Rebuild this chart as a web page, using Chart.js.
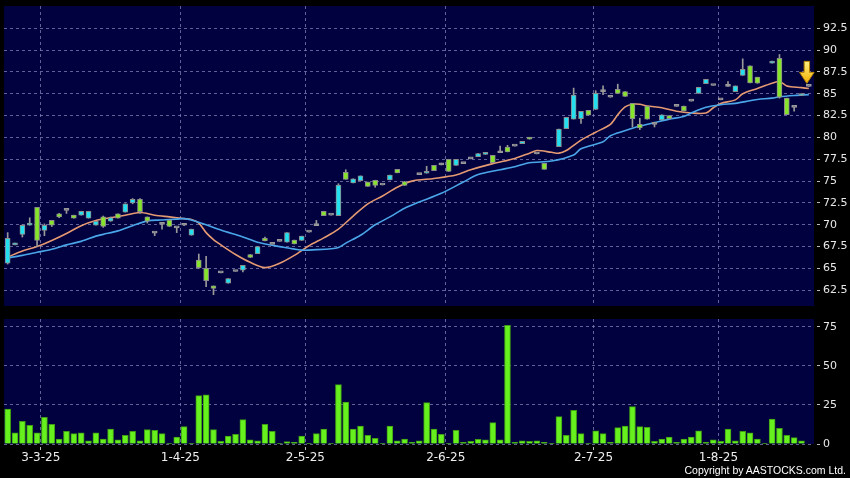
<!DOCTYPE html>
<html>
<head>
<meta charset="utf-8">
<script src="https://cdn.jsdelivr.net/npm/chart.js@4/dist/chart.umd.min.js"></script>
<style>
  html, body { margin: 0; padding: 0; background: #000; }
  #wrap { position: relative; width: 850px; height: 478px; background: #000; overflow: hidden; }
  #price { position: absolute; left: 0; top: 0; }
  #volume { position: absolute; left: 0; top: 310px; }
  #copy { position: absolute; right: 4px; top: 464px; color: #fff; font: 10.5px "Liberation Sans", sans-serif; line-height: 13px; white-space: nowrap; }
</style>
</head>
<body>
<div id="wrap">
  <canvas id="price" width="850" height="310"></canvas>
  <canvas id="volume" width="850" height="168"></canvas>
  <div id="copy">Copyright by AASTOCKS.com Ltd.</div>
</div>
<script>
// daily candles, one slot per trading day (null = no candle)
const opens = [
  65.6, 67.7, 68.9, 69.95, 72.0, 69.35, 70.5, 71.25, 71.65, 71.1,
  71.1, 70.75, 69.95, 70.9, 70.4, 71.25, 71.45, 72.5, 72.9, 70.9,
  69.05, 70.05, 70.55, 69.65, 69.95, 68.8, 65.95, 65.0, 63.0, 64.5,
  63.3, 64.65, 64.8, 66.6, 66.7, 68.45, 67.75, 68.1, 68.0, 68.25,
  68.2, 69.15, 69.9, 71.55, 71.1, 71.05, 76.0, 74.8, 75.05, 74.9,
  75.1, 74.55, 75.15, 76.35, 74.95, null, 75.75, 75.9, 76.8, 76.85,
  77.5, 76.8, 77.0, 77.55, 77.8, 78.05, 77.95, 78.25, 78.9, 79.0,
  79.3, 80.0, 78.1, 77.05, null, 78.95, 81.0, 82.1, 82.15, 83.1,
  83.2, 85.25, 84.6, 85.5, 85.25, 83.9, 81.5, 83.6, 81.5, 82.0,
  82.5, 83.55, 83.6, 84.15, 85.05, 86.15, 85.95, 84.3, 85.85, 85.25,
  87.1, 88.2, 86.9, null, 88.5, 89.05, 84.5, 83.45, 84.8, 85.85
];
const highs = [
  69.1, 67.9, 70.0, 70.8, 72.0, 70.1, 70.5, 71.3, 71.65, 71.1,
  71.55, 71.55, 70.4, 71.0, 70.9, 71.25, 72.4, 73.0, 73.0, 70.9,
  69.1, 70.1, 70.55, 69.7, 70.0, 69.5, 66.65, 66.4, 63.0, 64.5,
  63.85, 64.65, 65.35, 66.6, 67.5, 68.6, 67.75, 68.1, 69.1, 68.25,
  68.7, 69.15, 70.5, 71.55, 71.1, 74.7, 76.3, 75.25, 75.6, 74.9,
  75.1, 74.55, 75.7, 76.35, 74.95, null, 75.75, 76.7, 76.8, 77.05,
  77.5, 77.5, 77.0, 77.55, 78.15, 78.3, 77.95, 79.0, 79.1, 79.0,
  79.55, 80.0, 78.1, 77.05, null, 80.95, 82.3, 85.65, 83.0, 83.1,
  85.35, 85.9, 84.6, 86.1, 85.25, 83.9, 82.2, 83.6, 81.5, 82.6,
  82.5, 83.55, 83.6, 84.15, 85.75, 86.65, 85.95, 84.3, 86.4, 85.9,
  89.0, 88.2, 86.9, null, 88.75, 89.5, 84.5, 83.45, 85.0, 85.85
];
const lows = [
  65.5, 67.7, 68.6, 69.95, 67.5, 68.75, 69.8, 70.8, 71.3, 70.75,
  71.1, 70.75, 69.95, 69.7, 70.4, 70.75, 71.45, 72.4, 71.3, 70.2,
  68.75, 69.5, 69.8, 69.1, 69.9, 68.8, 65.0, 62.9, 62.0, 64.5,
  63.3, 64.65, 64.6, 66.25, 66.7, 68.15, 67.75, 68.1, 68.0, 67.8,
  68.2, 69.15, 69.9, 71.05, 71.1, 71.05, 75.2, 74.8, 75.05, 74.4,
  74.3, 74.55, 75.15, 75.95, 74.5, null, 75.75, 75.9, 76.2, 76.85,
  76.1, 76.8, 77.0, 77.55, 77.8, 78.05, 77.1, 78.25, 78.35, 79.0,
  79.3, 79.8, 78.1, 76.35, null, 78.95, 81.0, 82.1, 81.6, 82.55,
  83.2, 84.9, 84.6, 85.05, 84.7, 81.2, 80.9, 82.1, 81.2, 82.0,
  82.15, 83.55, 83.05, 84.15, 85.05, 86.15, 85.95, 84.3, 85.85, 85.25,
  87.1, 86.25, 86.2, null, 88.5, 84.5, 82.6, 83.0, 84.8, 85.85
];
const closes = [
  68.45, 67.9, 69.95, 70.2, 68.2, 69.95, 69.95, 70.9, 71.65, 70.75,
  71.55, 71.55, 70.4, 69.8, 70.8, 70.75, 72.4, 72.9, 71.5, 70.4,
  69.05, 70.05, 69.8, 69.65, 69.95, 69.5, 65.1, 63.6, 62.7, 64.5,
  63.85, 64.65, 65.35, 66.25, 67.5, 68.15, 67.75, 68.1, 69.1, 67.8,
  68.7, 69.15, 69.9, 71.05, 71.1, 74.55, 75.2, 75.25, 75.6, 74.4,
  74.5, 74.55, 75.7, 75.95, 74.5, null, 75.75, 76.05, 76.2, 76.85,
  76.1, 77.5, 77.0, 77.55, 78.15, 78.3, 77.1, 78.25, 78.35, 79.0,
  79.55, 79.8, 78.1, 76.35, null, 80.95, 82.3, 84.85, 83.0, 82.55,
  85.05, 85.25, 84.6, 85.05, 84.7, 82.15, 81.1, 82.1, 81.5, 82.6,
  82.15, 83.55, 83.05, 84.15, 85.75, 86.65, 85.95, 84.3, 85.85, 85.9,
  87.8, 86.25, 86.2, null, 88.75, 84.6, 82.6, 83.45, 85.0, 85.85
];
// volume, same slots
const volumes = [
  22.4, 7.1, 14.5, 12.0, 7.1, 17.1, 12.6, 3.2, 8.1, 6.6,
  7.1, 2.1, 7.1, 3.2, 9.6, 2.6, 5.6, 8.1, 2.1, 9.2,
  8.8, 6.6, 0.5, 4.5, 11.1, 0.5, 31.0, 31.4, 9.2, 1.7,
  5.1, 6.2, 15.6, 2.6, 2.1, 12.6, 8.1, 0.5, 1.5, 1.0,
  5.1, 0.5, 6.6, 9.6, 0.5, 38.0, 26.9, 9.6, 11.5, 5.6,
  3.6, 0.5, 11.5, 2.1, 3.2, 1.0, 2.1, 26.5, 9.6, 6.2,
  0.4, 8.8, 1.0, 1.7, 3.0, 2.6, 13.7, 2.6, 76.0, 1.0,
  2.1, 1.7, 2.1, 1.0, 0.4, 17.5, 5.6, 21.6, 6.6, 0.4,
  8.5, 6.6, 1.0, 10.5, 11.5, 23.9, 11.1, 10.7, 1.7, 3.2,
  4.5, 1.0, 3.2, 4.5, 8.5, 1.0, 2.6, 1.7, 9.6, 2.1,
  8.1, 7.1, 3.2, 0.4, 16.0, 10.0, 5.6, 4.1, 2.1, null
];
// moving averages at some slots
const maFastSlots = [0, 2, 4, 6, 8, 10, 12, 14, 16, 18, 20, 22, 24, 25, 26, 27, 28, 29, 31, 33, 35, 37, 39, 41, 43, 45, 47, 49, 51, 53, 55, 58, 61, 63, 66, 69, 71, 72, 74, 75, 76, 78, 80, 82, 83, 84, 85, 86, 87, 89, 91, 93, 95, 96, 97, 99, 100, 102, 104, 105, 106, 108, 109];
const maFastValues = [66.3, 67.0, 67.5, 68.2, 69.0, 69.9, 70.5, 70.8, 71.1, 71.4, 71.1, 70.9, 70.7, 70.6, 70.2, 69.1, 68.3, 67.7, 66.6, 65.7, 65.1, 65.6, 66.5, 67.6, 68.5, 69.5, 71.0, 72.4, 73.3, 74.3, 75.0, 75.3, 75.7, 76.3, 77.0, 77.6, 78.2, 78.5, 78.3, 78.2, 78.5, 79.7, 80.6, 81.5, 82.6, 83.5, 83.8, 83.8, 83.6, 83.4, 83.0, 82.8, 82.8, 83.4, 83.9, 84.3, 85.0, 85.6, 86.2, 86.4, 85.9, 85.7, 85.6];
const maSlowSlots = [0, 2, 4, 6, 8, 10, 12, 13, 15, 17, 19, 21, 23, 24, 25, 27, 29, 32, 34, 37, 40, 42, 44, 45, 46, 48, 50, 52, 54, 56, 59, 62, 64, 67, 69, 71, 74, 77, 78, 81, 82, 85, 86, 88, 90, 92, 93, 95, 97, 99, 101, 102, 104, 105, 107, 109];
const maSlowValues = [66.2, 66.5, 66.85, 67.2, 67.7, 68.1, 68.7, 68.9, 69.3, 69.9, 70.45, 70.55, 70.65, 70.7, 70.55, 70.0, 69.4, 68.6, 68.0, 67.5, 67.1, 67.15, 67.25, 67.4, 67.9, 68.8, 70.0, 70.9, 71.9, 72.6, 73.6, 74.9, 75.75, 76.3, 76.65, 77.1, 77.3, 78.0, 78.7, 79.5, 80.2, 81.05, 81.3, 81.7, 82.1, 82.4, 82.8, 83.45, 83.75, 83.9, 84.2, 84.35, 84.5, 84.65, 84.8, 84.9];

const priceTicks = [62.5, 65, 67.5, 70, 72.5, 75, 77.5, 80, 82.5, 85, 87.5, 90, 92.5];
const volumeTicks = [0, 25, 50, 75];
const monthTickSlots = [4.5, 23.5, 40.5, 59.6, 79.7, 96.7];
const monthLabels = ['3-3-25', '1-4-25', '2-5-25', '2-6-25', '2-7-25', '1-8-25'];

const UP = '#22e0f0', DOWN = '#86e52b', FLAT = '#9a9a9a';
const GRID = 'rgba(130,130,185,0.75)';
const FONT = 'DejaVu Sans';

const slots = opens.map((o, i) => i).filter(i => opens[i] !== null);

const plotBackground = {
  id: 'plotBackground',
  beforeDraw(chart) {
    const {ctx, chartArea: a} = chart;
    ctx.save();
    ctx.fillStyle = '#01013f';
    ctx.fillRect(a.left, a.top, a.right - a.left, a.bottom - a.top);
    ctx.restore();
  }
};

// yellow arrow over the last candle
const lastArrow = {
  id: 'lastArrow',
  afterDatasetsDraw(chart) {
    const last = closes.length - 1;
    const x = chart.scales.x.getPixelForValue(last) - 2;
    const tip = chart.scales.y.getPixelForValue(closes[last]) - 3;
    const ctx = chart.ctx;
    const g = ctx.createLinearGradient(0, tip - 22, 0, tip);
    g.addColorStop(0, '#fff080');
    g.addColorStop(1, '#f2b000');
    ctx.save();
    ctx.beginPath();
    ctx.moveTo(x - 2.7, tip - 22);
    ctx.lineTo(x + 2.7, tip - 22);
    ctx.lineTo(x + 2.7, tip - 11);
    ctx.lineTo(x + 7.3, tip - 11);
    ctx.lineTo(x, tip);
    ctx.lineTo(x - 7.3, tip - 11);
    ctx.lineTo(x - 2.7, tip - 11);
    ctx.closePath();
    ctx.fillStyle = g;
    ctx.fill();
    ctx.strokeStyle = '#b88400';
    ctx.lineWidth = 1;
    ctx.stroke();
    ctx.restore();
  }
};

function xAxis(showLabels) {
  return {
    type: 'linear',
    min: -0.5,
    max: 109.7,
    offset: false,
    afterBuildTicks: s => { s.ticks = monthTickSlots.map(v => ({value: v})); },
    afterFit: s => {
      s.height = showLabels ? 34 : 0;
      s.paddingLeft = 0;
      s.paddingRight = 0;
    },
    border: {display: false, dash: [3, 3]},
    grid: {
      offset: false,
      color: GRID,
      drawTicks: showLabels,
      tickLength: 6,
      tickColor: '#bbb',
      tickBorderDash: [0, 3, 3]
    },
    ticks: {
      display: showLabels,
      autoSkip: false,
      maxRotation: 0,
      padding: 1,
      color: '#eee',
      font: {family: FONT, size: 12},
      callback: (v, i) => monthLabels[i]
    }
  };
}

function yAxis(min, max, tickList) {
  return {
    position: 'right',
    min: min,
    max: max,
    afterBuildTicks: s => { s.ticks = tickList.map(v => ({value: v})); },
    afterFit: s => {
      s.width = 36;
      s.paddingTop = 0;
      s.paddingBottom = 0;
    },
    border: {display: false, dash: [3, 3]},
    grid: {
      color: GRID,
      tickLength: 6,
      tickColor: '#bbb',
      tickBorderDash: [0, 3, 3]
    },
    ticks: {
      padding: 3,
      color: '#e8e8e8',
      font: {family: FONT, size: 11},
      callback: v => String(v)
    }
  };
}

const bodyColor = c => {
  const d = c.raw;
  if (!d) return FLAT;
  return d.c > d.o ? UP : (d.c < d.o ? DOWN : FLAT);
};

new Chart(document.getElementById('price'), {
  type: 'bar',
  data: {
    datasets: [
      {
        type: 'line',
        data: maFastSlots.map((s, i) => ({x: s, y: maFastValues[i]})),
        borderColor: '#e59a72',
        borderWidth: 1.6,
        pointRadius: 0,
        tension: 0.3,
        order: 4
      },
      {
        type: 'line',
        data: maSlowSlots.map((s, i) => ({x: s, y: maSlowValues[i]})),
        borderColor: '#4aa6e8',
        borderWidth: 1.6,
        pointRadius: 0,
        tension: 0.3,
        order: 3
      },
      {
        data: slots.map(i => ({x: i, y: [lows[i], highs[i]]})),
        backgroundColor: '#9a9a9a',
        barThickness: 1,
        grouped: false,
        order: 2
      },
      {
        data: slots.map(i => ({x: i, y: [opens[i], closes[i]], o: opens[i], c: closes[i]})),
        backgroundColor: bodyColor,
        borderColor: c => (c.raw && c.raw.o === c.raw.c) ? FLAT : '#8c8c8c',
        borderWidth: 1,
        borderSkipped: false,
        barThickness: 5,
        minBarLength: 2,
        grouped: false,
        order: 1
      }
    ]
  },
  options: {
    responsive: false,
    animation: false,
    devicePixelRatio: 1,
    layout: {padding: {left: 4, top: 6, right: 0, bottom: 4}},
    plugins: {legend: {display: false}, tooltip: {enabled: false}},
    scales: {
      x: xAxis(false),
      y: yAxis(60.7, 95.05, priceTicks)
    }
  },
  plugins: [plotBackground, lastArrow]
});

new Chart(document.getElementById('volume'), {
  type: 'bar',
  data: {
    datasets: [{
      data: volumes.map((v, i) => ({x: i, y: v})).filter(d => d.y !== null),
      backgroundColor: '#66f01e',
      borderColor: '#3f9c14',
      borderWidth: {top: 1, left: 1, right: 1, bottom: 0},
      barThickness: 6,
      grouped: false
    }]
  },
  options: {
    responsive: false,
    animation: false,
    devicePixelRatio: 1,
    layout: {padding: {left: 4, top: 9, right: 0, bottom: 0}},
    plugins: {legend: {display: false}, tooltip: {enabled: false}},
    scales: {
      x: xAxis(true),
      y: yAxis(0, 80, volumeTicks)
    }
  },
  plugins: [plotBackground]
});
</script>
</body>
</html>
